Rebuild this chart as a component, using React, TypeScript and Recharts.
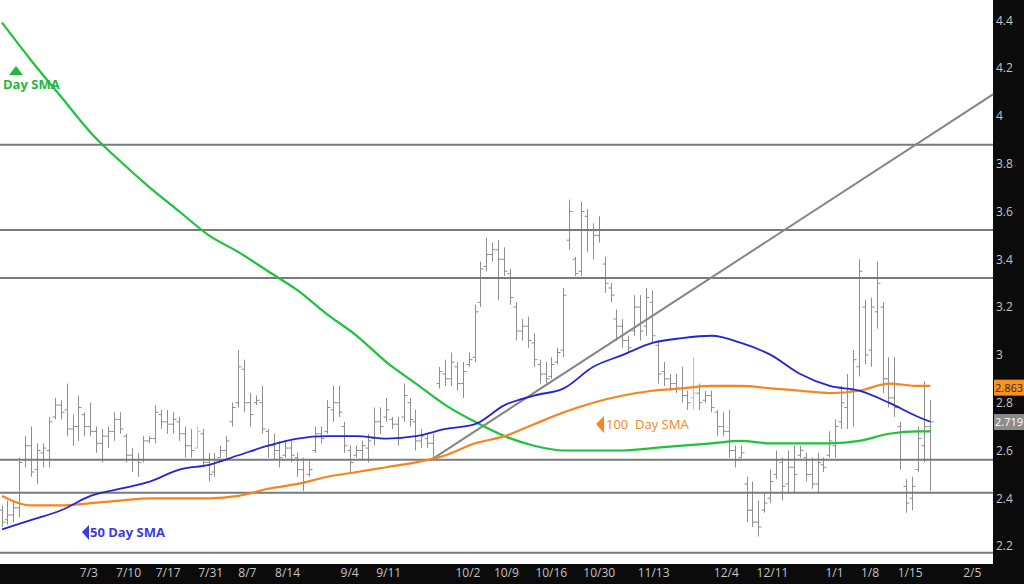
import React from 'react';
import { ComposedChart, Bar, Line, XAxis, YAxis, CartesianGrid, ReferenceLine } from 'recharts';

// daily bars, oldest first
const highs = [
  2.37, 2.39, 2.39, 2.57, 2.66, 2.70, 2.63, 2.63, 2.74, 2.82, 2.81, 2.88, 2.75, 2.83, 2.76, 2.80, 2.70, 2.69, 2.70, 2.76,
  2.76, 2.67, 2.61, 2.59, 2.66, 2.66, 2.79, 2.77, 2.77, 2.76, 2.74, 2.70, 2.69, 2.70, 2.69, 2.59, 2.59, 2.62, 2.66, 2.80,
  3.02, 2.98, 2.84, 2.83, 2.87, 2.69, 2.67, 2.64, 2.64, 2.64, 2.59, 2.57, 2.56, 2.70, 2.70, 2.81, 2.87, 2.87, 2.72, 2.62,
  2.62, 2.64, 2.67, 2.78, 2.78, 2.82, 2.74, 2.74, 2.88, 2.82, 2.77, 2.69, 2.67, 2.67, 2.95, 2.98, 3.01, 2.97, 2.97, 3.01,
  3.21, 3.39, 3.49, 3.47, 3.48, 3.45, 3.36, 3.22, 3.15, 3.16, 3.09, 2.98, 2.97, 2.99, 3.03, 3.28, 3.65, 3.41, 3.64, 3.61,
  3.55, 3.58, 3.41, 3.30, 3.19, 3.15, 3.08, 3.25, 3.25, 3.28, 3.27, 3.06, 2.97, 2.92, 2.92, 2.95, 2.85, 2.99, 2.88, 2.85,
  2.85, 2.77, 2.76, 2.77, 2.62, 2.62, 2.49, 2.47, 2.39, 2.42, 2.52, 2.60, 2.57, 2.60, 2.62, 2.62, 2.59, 2.57, 2.59, 2.57,
  2.68, 2.73, 2.87, 2.92, 3.02, 3.40, 3.23, 3.24, 3.39, 3.22, 2.99, 2.99, 2.72, 2.48, 2.49, 2.70, 2.89, 2.81,
];
const lows = [
  2.28, 2.29, 2.30, 2.32, 2.53, 2.49, 2.46, 2.53, 2.53, 2.73, 2.73, 2.66, 2.62, 2.64, 2.66, 2.66, 2.59, 2.55, 2.61, 2.64,
  2.67, 2.55, 2.51, 2.49, 2.55, 2.63, 2.63, 2.69, 2.67, 2.67, 2.64, 2.57, 2.57, 2.61, 2.53, 2.47, 2.49, 2.57, 2.57, 2.70,
  2.78, 2.76, 2.70, 2.79, 2.67, 2.57, 2.56, 2.53, 2.57, 2.55, 2.49, 2.43, 2.49, 2.59, 2.63, 2.67, 2.72, 2.74, 2.59, 2.51,
  2.57, 2.56, 2.55, 2.62, 2.67, 2.72, 2.69, 2.62, 2.72, 2.70, 2.60, 2.61, 2.61, 2.56, 2.86, 2.87, 2.87, 2.85, 2.82, 2.95,
  2.97, 3.20, 3.35, 3.39, 3.23, 3.33, 3.21, 3.06, 3.06, 3.03, 2.95, 2.88, 2.88, 2.90, 2.96, 2.99, 3.44, 3.33, 3.33, 3.43,
  3.40, 3.47, 3.26, 3.22, 3.06, 3.03, 3.01, 3.08, 3.06, 3.08, 3.05, 2.88, 2.87, 2.85, 2.84, 2.80, 2.77, 2.77, 2.77, 2.80,
  2.76, 2.66, 2.66, 2.57, 2.53, 2.57, 2.30, 2.28, 2.24, 2.34, 2.38, 2.48, 2.39, 2.42, 2.42, 2.57, 2.47, 2.44, 2.42, 2.51,
  2.57, 2.57, 2.69, 2.69, 2.70, 2.91, 2.96, 2.95, 3.11, 2.84, 2.78, 2.74, 2.52, 2.34, 2.35, 2.51, 2.55, 2.43,
];
const opens = [
  2.35, 2.31, 2.33, 2.36, 2.56, 2.62, 2.52, 2.59, 2.60, 2.74, 2.79, 2.77, 2.69, 2.70, 2.75, 2.70, 2.68, 2.63, 2.66, 2.68,
  2.73, 2.66, 2.58, 2.56, 2.56, 2.64, 2.65, 2.75, 2.72, 2.71, 2.72, 2.67, 2.62, 2.61, 2.67, 2.55, 2.51, 2.57, 2.60, 2.72,
  2.80, 2.94, 2.80, 2.80, 2.80, 2.68, 2.62, 2.60, 2.58, 2.61, 2.57, 2.52, 2.50, 2.60, 2.67, 2.68, 2.77, 2.80, 2.70, 2.60,
  2.58, 2.60, 2.61, 2.65, 2.72, 2.74, 2.73, 2.71, 2.74, 2.80, 2.72, 2.64, 2.65, 2.63, 2.88, 2.92, 2.90, 2.95, 2.88, 2.96,
  2.99, 3.22, 3.37, 3.42, 3.44, 3.40, 3.34, 3.20, 3.10, 3.12, 3.05, 2.96, 2.92, 2.91, 2.97, 3.02, 3.48, 3.40, 3.35, 3.58,
  3.52, 3.50, 3.38, 3.28, 3.15, 3.12, 3.06, 3.10, 3.20, 3.12, 3.22, 3.04, 2.93, 2.90, 2.88, 2.86, 2.83, 2.82, 2.84, 2.81,
  2.83, 2.76, 2.70, 2.68, 2.60, 2.57, 2.46, 2.35, 2.30, 2.35, 2.40, 2.50, 2.55, 2.46, 2.53, 2.58, 2.57, 2.50, 2.46, 2.54,
  2.58, 2.62, 2.72, 2.78, 2.85, 2.95, 3.20, 3.02, 3.18, 3.20, 2.90, 2.82, 2.70, 2.45, 2.40, 2.52, 2.62, 2.70,
];
const closes = [
  2.30, 2.33, 2.36, 2.55, 2.62, 2.51, 2.60, 2.61, 2.72, 2.79, 2.76, 2.69, 2.70, 2.78, 2.70, 2.68, 2.63, 2.66, 2.68, 2.73,
  2.69, 2.58, 2.56, 2.55, 2.64, 2.65, 2.76, 2.72, 2.71, 2.73, 2.67, 2.62, 2.60, 2.68, 2.55, 2.50, 2.56, 2.60, 2.64, 2.78,
  2.95, 2.80, 2.75, 2.81, 2.69, 2.62, 2.60, 2.57, 2.61, 2.58, 2.52, 2.47, 2.52, 2.67, 2.65, 2.78, 2.80, 2.76, 2.62, 2.55,
  2.60, 2.62, 2.64, 2.72, 2.70, 2.77, 2.71, 2.65, 2.83, 2.73, 2.64, 2.66, 2.63, 2.57, 2.93, 2.90, 2.97, 2.88, 2.93, 2.98,
  3.18, 3.36, 3.42, 3.44, 3.40, 3.35, 3.24, 3.10, 3.12, 3.06, 2.98, 2.92, 2.90, 2.96, 3.01, 3.25, 3.60, 3.34, 3.60, 3.52,
  3.50, 3.52, 3.30, 3.25, 3.12, 3.06, 3.03, 3.20, 3.10, 3.24, 3.08, 2.92, 2.90, 2.88, 2.86, 2.83, 2.80, 2.84, 2.80, 2.83,
  2.78, 2.70, 2.68, 2.60, 2.56, 2.59, 2.35, 2.30, 2.28, 2.38, 2.47, 2.56, 2.45, 2.53, 2.50, 2.60, 2.50, 2.46, 2.55, 2.53,
  2.64, 2.70, 2.80, 2.86, 2.98, 3.35, 3.00, 3.20, 3.30, 2.90, 2.82, 2.78, 2.56, 2.38, 2.45, 2.65, 2.70, 2.72,
];
const pinkBars = [33, 117];

// moving averages, sampled every 5 bars
const smaIdx = [0, 5, 10, 15, 20, 25, 30, 35, 40, 45, 50, 55, 60, 65, 70, 75, 80, 85, 90, 95, 100, 105, 110, 115, 120, 125, 130, 135, 140, 145, 150, 155, 157];
const sma50 = [2.27, 2.31, 2.35, 2.41, 2.44, 2.47, 2.52, 2.54, 2.58, 2.62, 2.65, 2.66, 2.66, 2.65, 2.66, 2.69, 2.71, 2.79, 2.83, 2.86, 2.95, 3.0, 3.05, 3.07, 3.08, 3.05, 3.0, 2.92, 2.87, 2.85, 2.8, 2.74, 2.72];
const sma100 = [2.41, 2.37, 2.37, 2.38, 2.39, 2.4, 2.4, 2.4, 2.41, 2.44, 2.46, 2.49, 2.51, 2.53, 2.55, 2.58, 2.63, 2.66, 2.71, 2.76, 2.8, 2.83, 2.85, 2.86, 2.87, 2.87, 2.86, 2.85, 2.84, 2.85, 2.88, 2.87, 2.87];
const sma200 = [4.39, 4.23, 4.08, 3.93, 3.81, 3.7, 3.6, 3.5, 3.43, 3.35, 3.27, 3.17, 3.08, 2.97, 2.88, 2.79, 2.72, 2.66, 2.62, 2.6, 2.6, 2.6, 2.61, 2.62, 2.63, 2.64, 2.63, 2.63, 2.63, 2.64, 2.67, 2.68, 2.68];

const levels = [3.879, 3.523, 3.322, 2.561, 2.423, 2.172];
const trendX = [72.5, 167.6];
const trendY = [2.56, 4.09];

const tickPos = [14.7, 21.4, 28.1, 35.3, 41.5, 48.3, 58.8, 65.4, 78.8, 85.3, 92.9, 101.0, 110.2, 122.5, 130.3, 140.8, 146.8, 153.6, 164.1];
const tickLabels = ['7/3', '7/10', '7/17', '7/31', '8/7', '8/14', '9/4', '9/11', '10/2', '10/9', '10/16', '10/30', '11/13', '12/4', '12/11', '1/1', '1/8', '1/15', '2/5'];
const yTicks = [2.2, 2.4, 2.6, 2.8, 3, 3.2, 3.4, 3.6, 3.8, 4, 4.2, 4.4];

const last100 = 2.863;
const last50 = 2.719;

const data = highs.map((h, i) => {
  const k = smaIdx.indexOf(i);
  return {
    i,
    range: [lows[i], h],
    hi: h,
    lo: lows[i],
    open: opens[i],
    close: closes[i],
    pink: pinkBars.includes(i),
    s50: k >= 0 ? sma50[k] : null,
    s100: k >= 0 ? sma100[k] : null,
    s200: k >= 0 ? sma200[k] : null,
  };
});

const FONT = '"Open Sans", "Noto Sans", sans-serif';

const OhlcBar = (props: any) => {
  const { x, y, width, height, payload } = props;
  if (x == null || !payload) return null;
  const cx = Math.round(x + width / 2) + 0.5;
  const top = Math.min(y, y + height);
  const h = Math.abs(height);
  const span = payload.hi - payload.lo || 1;
  const yo = top + ((payload.hi - payload.open) / span) * h;
  const yc = top + ((payload.hi - payload.close) / span) * h;
  const color = payload.pink ? '#f0a8c0' : '#8e8e8e';
  return (
    <g stroke={color} strokeWidth={1}>
      <line x1={cx} x2={cx} y1={top} y2={top + h} />
      <line x1={cx - 3} x2={cx} y1={yo} y2={yo} />
      <line x1={cx} x2={cx + 3} y1={yc} y2={yc} />
    </g>
  );
};

const priceTag = (value: number, bg: string, fg: string) => (props: any) => {
  const vb = props.viewBox || {};
  const x = vb.x + vb.width + 1;
  return (
    <g>
      <rect x={x} y={vb.y - 8} width={31} height={16} fill={bg} />
      <text x={x + 1} y={vb.y + 4} fill={fg} fontSize={11} fontFamily={FONT}>{value.toFixed(3)}</text>
    </g>
  );
};

export default function App() {
  return (
    <div style={{ position: 'absolute', left: 0, top: 0, width: 1024, height: 584, background: '#0b0b0b', overflow: 'hidden' }}>
      <ComposedChart width={1024} height={584} data={data} margin={{ top: 0, right: 0, bottom: 0, left: 0 }}>
        <CartesianGrid fill="#ffffff" stroke="none" horizontal={false} vertical={false} />
        <XAxis
          dataKey="i"
          type="number"
          domain={[-0.34, 167.6]}
          ticks={tickPos}
          tickFormatter={(v: number) => tickLabels[tickPos.indexOf(v)] ?? ''}
          height={20}
          tickLine={false}
          axisLine={false}
          tickSize={0}
          tickMargin={4}
          interval={0}
          allowDataOverflow
          tick={{ fill: '#c4c4c4', fontSize: 12, fontFamily: FONT }}
        />
        <YAxis
          orientation="right"
          type="number"
          domain={[2.125, 4.485]}
          ticks={yTicks}
          tickFormatter={(v: number) => String(parseFloat(v.toFixed(1)))}
          width={31}
          tickLine={false}
          axisLine={false}
          tickSize={0}
          tickMargin={3}
          allowDataOverflow
          tick={{ fill: '#c4c4c4', fontSize: 12, fontFamily: FONT, textAnchor: 'start' }}
        />
        {levels.map((lv) => (
          <ReferenceLine key={lv} y={lv} stroke="#7a7a7a" strokeWidth={2} />
        ))}
        <ReferenceLine
          segment={[{ x: trendX[0], y: trendY[0] }, { x: trendX[1], y: trendY[1] }]}
          stroke="#858585"
          strokeWidth={2}
          ifOverflow="visible"
        />
        <Bar dataKey="range" barSize={5} shape={OhlcBar} isAnimationActive={false} />
        <Line dataKey="s200" type="monotone" connectNulls stroke="#1fc23b" strokeWidth={2.2} dot={false} activeDot={false} isAnimationActive={false} />
        <Line dataKey="s100" type="monotone" connectNulls stroke="#f7841c" strokeWidth={2.2} dot={false} activeDot={false} isAnimationActive={false} />
        <Line dataKey="s50" type="monotone" connectNulls stroke="#2424d6" strokeWidth={1.8} dot={false} activeDot={false} isAnimationActive={false} />
        <ReferenceLine y={last100} stroke="none" ifOverflow="visible" label={priceTag(last100, '#f7921e', '#2a2a2a')} />
        <ReferenceLine y={last50} stroke="none" ifOverflow="visible" label={priceTag(last50, '#8c8c8c', '#ffffff')} />
      </ComposedChart>
      <svg width={1024} height={584} style={{ position: 'absolute', left: 0, top: 0, pointerEvents: 'none' }}>
        <polygon points="9,75 23,75 16,66" fill="#1fb83a" />
        <text x={3} y={89} fill="#1fb83a" fontSize={13} fontWeight="bold" fontFamily={FONT}>Day SMA</text>
        <polygon points="82,532 89,525 89,540" fill="#3b3be0" />
        <text x={90} y={537} fill="#3b3be0" fontSize={13} fontWeight="bold" fontFamily={FONT}>50 Day SMA</text>
        <polygon points="596,424 604,416 604,433" fill="#f5861f" />
        <text x={606} y={429} fill="#f5861f" fontSize={13} fontFamily={FONT} xmlSpace="preserve">100  Day SMA</text>
      </svg>
    </div>
  );
}
